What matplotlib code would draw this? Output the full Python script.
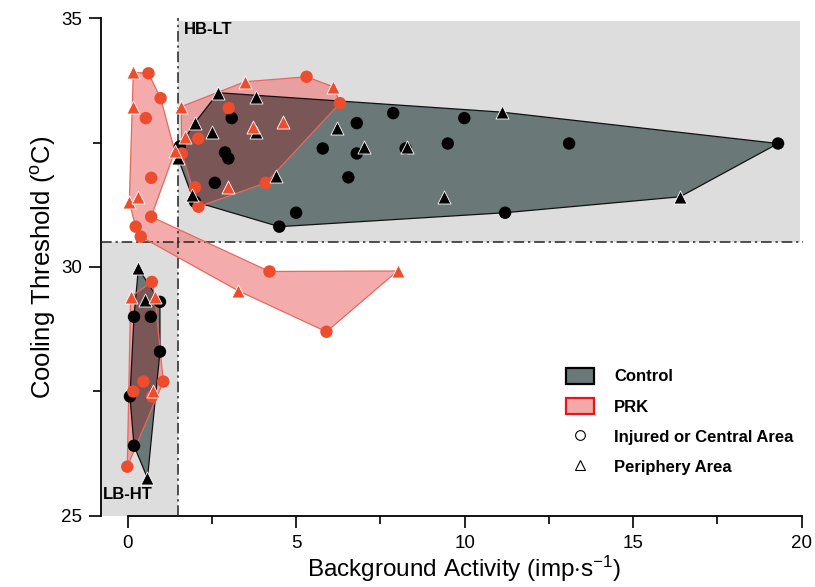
import matplotlib.pyplot as plt
from matplotlib.patches import Polygon, Rectangle, Patch
from matplotlib.lines import Line2D

plt.rcParams['font.family'] = ['Liberation Sans', 'DejaVu Sans']
plt.rcParams['mathtext.fontset'] = 'custom'
plt.rcParams['mathtext.rm'] = 'Liberation Sans'
plt.rcParams['mathtext.it'] = 'Liberation Sans:italic'

# kind: 'c' = injured / central area (circle), 't' = periphery area (triangle)

# Control, HB-LT cluster
ctrl_hi_x = [2.69, 3.80, 2.00, 2.49, 3.80, 4.40, 1.90, 6.20, 7.00, 8.30, 11.10, 9.40, 16.39, 1.50,
             3.09, 2.89, 2.99, 2.59, 2.00, 5.00, 4.50, 5.79, 6.55, 6.80, 6.80, 7.88, 8.25, 9.99,
             9.50, 13.10, 19.30, 11.20, 1.55]
ctrl_hi_y = [33.50, 33.41, 32.90, 32.72, 32.72, 31.83, 31.45, 32.80, 32.40, 32.40, 33.11, 31.41, 31.41, 32.18,
             32.99, 32.30, 32.18, 31.69, 31.31, 31.09, 30.81, 32.38, 31.80, 32.89, 32.28, 33.09, 32.38, 32.99,
             32.48, 32.48, 32.48, 31.09, 32.42]
ctrl_hi_kind = ['t'] * 14 + ['c'] * 19

# Control, LB-HT cluster
ctrl_lo_x = [0.32, 0.52, 0.59, 0.96, 0.19, 0.69, 0.96, 0.07, 0.19]
ctrl_lo_y = [29.97, 29.34, 25.76, 29.30, 29.00, 29.00, 28.30, 27.40, 26.41]
ctrl_lo_kind = ['t'] * 3 + ['c'] * 6

# PRK, HB-LT cluster
prk_hi_x = [1.59, 3.48, 6.10, 3.72, 4.60, 1.70, 2.99,
            5.31, 6.30, 4.10, 2.10, 3.00, 2.10, 1.61, 2.00]
prk_hi_y = [33.22, 33.72, 33.62, 32.82, 32.92, 32.62, 31.61,
            33.82, 33.29, 31.69, 31.21, 33.19, 32.58, 32.28, 31.60]
prk_hi_kind = ['t'] * 7 + ['c'] * 8

# PRK, LB-HT cluster
prk_lo_x = [0.09, 0.81, 0.76, 0.72, 0.47, 1.06, 0.17, 0.72, -0.01]
prk_lo_y = [29.40, 29.40, 27.50, 29.70, 27.70, 27.70, 27.50, 27.40, 25.99]
prk_lo_kind = ['t'] * 3 + ['c'] * 6

# PRK, band from low background activity towards 8 imp/s
prk_band_x = [0.17, 0.62, 0.98, 1.40, 0.70, 4.21, 8.01, 5.90, 3.29, 0.39, 0.24, 0.05,
              0.17, 0.54, 0.70, 0.30]
prk_band_y = [33.91, 33.89, 33.39, 32.32, 31.01, 29.91, 29.92, 28.70, 29.52, 30.61, 30.81, 31.30,
              33.21, 32.99, 31.79, 31.41]
prk_band_kind = ['t', 'c', 'c', 't', 'c', 'c', 't', 'c', 't', 'c', 'c', 't',
                 't', 'c', 'c', 't']
prk_band_outline = [0, 1, 2, 3, 4, 5, 6, 7, 8, 9, 10, 11]

x_split = 1.5
y_split = 30.5


def hull(xs, ys):
    pts = sorted(set(zip(xs, ys)))

    def cross(o, a, b):
        return (a[0] - o[0]) * (b[1] - o[1]) - (a[1] - o[1]) * (b[0] - o[0])

    lower, upper = [], []
    for p in pts:
        while len(lower) >= 2 and cross(lower[-2], lower[-1], p) <= 0:
            lower.pop()
        lower.append(p)
    for p in reversed(pts):
        while len(upper) >= 2 and cross(upper[-2], upper[-1], p) <= 0:
            upper.pop()
        upper.append(p)
    return lower[:-1] + upper[:-1]


ctrl_fill = '#6b7878'
prk_fill = '#ef7f7f'
overlap_fill = '#7a5656'
prk_marker = '#ee4d2d'

fig = plt.figure(figsize=(8.15, 5.87), dpi=100)
ax = fig.add_axes([0.1239, 0.121, 0.8618, 0.8483])
ax.set_xlim(-0.79, 20.05)
ax.set_ylim(25, 35)

# shaded quadrants
ax.add_patch(Rectangle((x_split, y_split), 19.95 - x_split, 34.95 - y_split,
                       facecolor='#dddddd', edgecolor='none', zorder=0.5))
ax.add_patch(Rectangle((-0.79, 25), x_split + 0.79, y_split - 25,
                       facecolor='#dddddd', edgecolor='none', zorder=0.5))

ctrl_polys = []
for xs, ys in [(ctrl_hi_x, ctrl_hi_y), (ctrl_lo_x, ctrl_lo_y)]:
    verts = hull(xs, ys)
    p = Polygon(verts, closed=True, facecolor=ctrl_fill, edgecolor='none', zorder=1)
    ax.add_patch(p)
    ax.add_patch(Polygon(verts, closed=True, facecolor='none', edgecolor='#111111', lw=0.9, zorder=3.5))
    ctrl_polys.append(p)

prk_verts = [hull(prk_hi_x, prk_hi_y), hull(prk_lo_x, prk_lo_y),
             [(prk_band_x[i], prk_band_y[i]) for i in prk_band_outline]]
for verts in prk_verts:
    ax.add_patch(Polygon(verts, closed=True, facecolor=prk_fill, alpha=0.65, edgecolor='none', zorder=2))
    for cp in ctrl_polys:
        ov = Polygon(verts, closed=True, facecolor=overlap_fill, edgecolor='none', zorder=2.5)
        ax.add_patch(ov)
        ov.set_clip_path(cp)
    ax.add_patch(Polygon(verts, closed=True, facecolor='none', edgecolor='#e8685e', lw=0.9, zorder=3.6))

# quadrant dividers
ax.axvline(x_split, color='#222222', lw=1.1, ls=(0, (7, 2.5, 1.5, 2.5)), zorder=3)
ax.axhline(y_split, color='#222222', lw=1.1, ls=(0, (7, 2.5, 1.5, 2.5)), zorder=3)

# markers
for xs, ys, kinds, col in [(ctrl_hi_x, ctrl_hi_y, ctrl_hi_kind, 'black'),
                           (ctrl_lo_x, ctrl_lo_y, ctrl_lo_kind, 'black'),
                           (prk_hi_x, prk_hi_y, prk_hi_kind, prk_marker),
                           (prk_lo_x, prk_lo_y, prk_lo_kind, prk_marker),
                           (prk_band_x, prk_band_y, prk_band_kind, prk_marker)]:
    cx = [x for x, k in zip(xs, kinds) if k == 'c']
    cy = [y for y, k in zip(ys, kinds) if k == 'c']
    tx = [x for x, k in zip(xs, kinds) if k == 't']
    ty = [y for y, k in zip(ys, kinds) if k == 't']
    ax.scatter(cx, cy, s=80, marker='o', color=col, edgecolors='none', zorder=4)
    ax.scatter(tx, ty, s=88, marker='^', color=col, edgecolors='white', linewidths=0.6, zorder=4.5)

ax.text(1.68, 34.76, 'HB-LT', fontsize=12, fontweight='bold', va='center', ha='left', zorder=5)
ax.text(-0.73, 25.44, 'LB-HT', fontsize=12, fontweight='bold', va='center', ha='left', zorder=5)

# axes styling
for side in ['top', 'right']:
    ax.spines[side].set_visible(False)
ax.spines['left'].set_bounds(25, 35)
ax.spines['bottom'].set_bounds(0, 20)
ax.spines['left'].set_linewidth(1.3)
ax.spines['bottom'].set_linewidth(1.3)
ax.set_xticks([0, 5, 10, 15, 20])
ax.set_xticks([2.5, 7.5, 12.5, 17.5], minor=True)
ax.set_yticks([25, 30, 35])
ax.set_yticks([27.5, 32.5], minor=True)
ax.tick_params(which='major', direction='out', length=8.5, width=1.2, labelsize=13.5, pad=5)
ax.tick_params(which='minor', direction='out', length=6, width=1.2)
ax.set_xlabel(r'Background Activity (imp$\cdot$s$^{-1}$)', fontsize=17.5, labelpad=3)
ax.set_ylabel(r'Cooling Threshold ($^{\mathrm{o}}$C)', fontsize=18.5, labelpad=2)
# centre the x label on the drawn spine (0..20) rather than the full axes width
ax.xaxis.set_label_coords((10 + 0.79) / 20.84, -0.075)

handles = [Patch(facecolor=ctrl_fill, edgecolor='black', lw=1.6),
           Patch(facecolor='#f4a9a9', edgecolor='#e8141e', lw=1.6),
           Line2D([], [], marker='o', ls='none', mfc='none', mec='black', ms=7, mew=0.8),
           Line2D([], [], marker='^', ls='none', mfc='none', mec='black', ms=7.5, mew=0.8)]
labels = ['Control', 'PRK', 'Injured or Central Area', 'Periphery Area']
ax.legend(handles, labels, loc='upper left', bbox_to_anchor=(0.662, 0.298), frameon=False,
          prop={'weight': 'bold', 'size': 12}, handlelength=1.68, handleheight=1.15,
          handletextpad=1.2, labelspacing=0.8, borderpad=0, borderaxespad=0)

plt.savefig('out.png', dpi=100)
